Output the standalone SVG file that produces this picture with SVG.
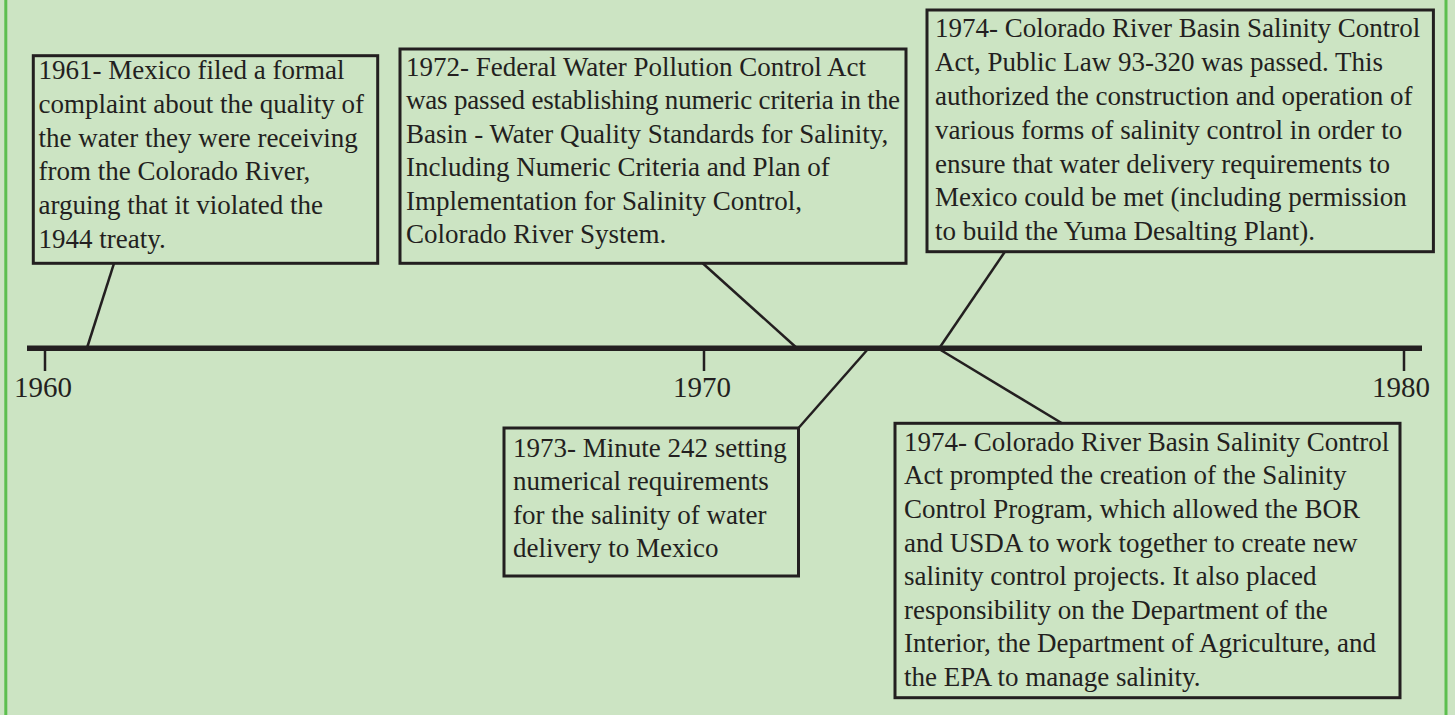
<svg xmlns="http://www.w3.org/2000/svg" width="1455" height="715" viewBox="0 0 1455 715">
<style>
.box{fill:none;stroke:#231f20;stroke-width:3}
.con{stroke:#231f20;stroke-width:2.5;fill:none}
.tick{stroke:#231f20;stroke-width:2.5}
.t{font-family:"Liberation Serif","Times New Roman",serif;font-size:27px;fill:#231f20}
.yr{font-family:"Liberation Serif","Times New Roman",serif;font-size:29px;fill:#231f20;text-anchor:middle}
</style>
<rect x="0" y="0" width="1455" height="715" fill="#cce4c3"/>
<rect x="5.8" y="-10" width="1440.2" height="740" fill="none" stroke="#5cbf4f" stroke-width="3"/>

<g id="timeline">
<line x1="27" y1="348.3" x2="1422" y2="348.3" stroke="#231f20" stroke-width="5.5"/>
<line class="tick" x1="45" y1="350" x2="45" y2="371"/>
<line class="tick" x1="704" y1="350" x2="704" y2="371"/>
<line class="tick" x1="1404" y1="350" x2="1404" y2="371"/>
<text class="yr" x="43" y="397">1960</text>
<text class="yr" x="702" y="397">1970</text>
<text class="yr" x="1401" y="397">1980</text>
</g>

<g id="connectors">
<line class="con" x1="114" y1="263.3" x2="87.3" y2="347"/>
<line class="con" x1="702.7" y1="263.3" x2="795.7" y2="347"/>
<line class="con" x1="868" y1="349" x2="798.5" y2="428"/>
<line class="con" x1="1004.9" y1="251.7" x2="938.7" y2="349"/>
<line class="con" x1="939" y1="349" x2="1062" y2="423.3"/>
</g>

<g id="e1961">
<rect class="box" x="33.3" y="55.7" width="344.4" height="207.6"/>
<text class="t" x="38.5" y="79.3">1961- Mexico filed a formal</text>
<text class="t" x="38.5" y="113">complaint about the quality of</text>
<text class="t" x="38.5" y="146.7">the water they were receiving</text>
<text class="t" x="38.5" y="180.4">from the Colorado River,</text>
<text class="t" x="38.5" y="214.1">arguing that it violated the</text>
<text class="t" x="38.5" y="247.8">1944 treaty.</text>
</g>

<g id="e1972">
<rect class="box" x="400" y="49" width="506" height="214.3"/>
<text class="t" x="406" y="75.7">1972- Federal Water Pollution Control Act</text>
<text class="t" x="406" y="109.2" textLength="494">was passed establishing numeric criteria in the</text>
<text class="t" x="406" y="142.7">Basin - Water Quality Standards for Salinity,</text>
<text class="t" x="406" y="176.2">Including Numeric Criteria and Plan of</text>
<text class="t" x="406" y="209.7">Implementation for Salinity Control,</text>
<text class="t" x="406" y="243.2">Colorado River System.</text>
</g>

<g id="e1973">
<rect class="box" x="504" y="428" width="294.5" height="148"/>
<text class="t" x="513" y="456.7">1973- Minute 242 setting</text>
<text class="t" x="513" y="490.1">numerical requirements</text>
<text class="t" x="513" y="523.5">for the salinity of water</text>
<text class="t" x="513" y="556.9">delivery to Mexico</text>
</g>

<g id="e1974a">
<rect class="box" x="927" y="10" width="506.4" height="241.7"/>
<text class="t" x="935" y="37.3">1974- Colorado River Basin Salinity Control</text>
<text class="t" x="935" y="71.1">Act, Public Law 93-320 was passed. This</text>
<text class="t" x="935" y="104.9">authorized the construction and operation of</text>
<text class="t" x="935" y="138.7">various forms of salinity control in order to</text>
<text class="t" x="935" y="172.5">ensure that water delivery requirements to</text>
<text class="t" x="935" y="206.3">Mexico could be met (including permission</text>
<text class="t" x="935" y="240.1">to build the Yuma Desalting Plant).</text>
</g>

<g id="e1974b">
<rect class="box" x="895" y="423.3" width="505" height="274.4"/>
<text class="t" x="904" y="450.7">1974- Colorado River Basin Salinity Control</text>
<text class="t" x="904" y="484.3">Act prompted the creation of the Salinity</text>
<text class="t" x="904" y="517.9">Control Program, which allowed the BOR</text>
<text class="t" x="904" y="551.5">and USDA to work together to create new</text>
<text class="t" x="904" y="585.1">salinity control projects. It also placed</text>
<text class="t" x="904" y="618.7">responsibility on the Department of the</text>
<text class="t" x="904" y="652.3">Interior, the Department of Agriculture, and</text>
<text class="t" x="904" y="685.9">the EPA to manage salinity.</text>
</g>
</svg>
